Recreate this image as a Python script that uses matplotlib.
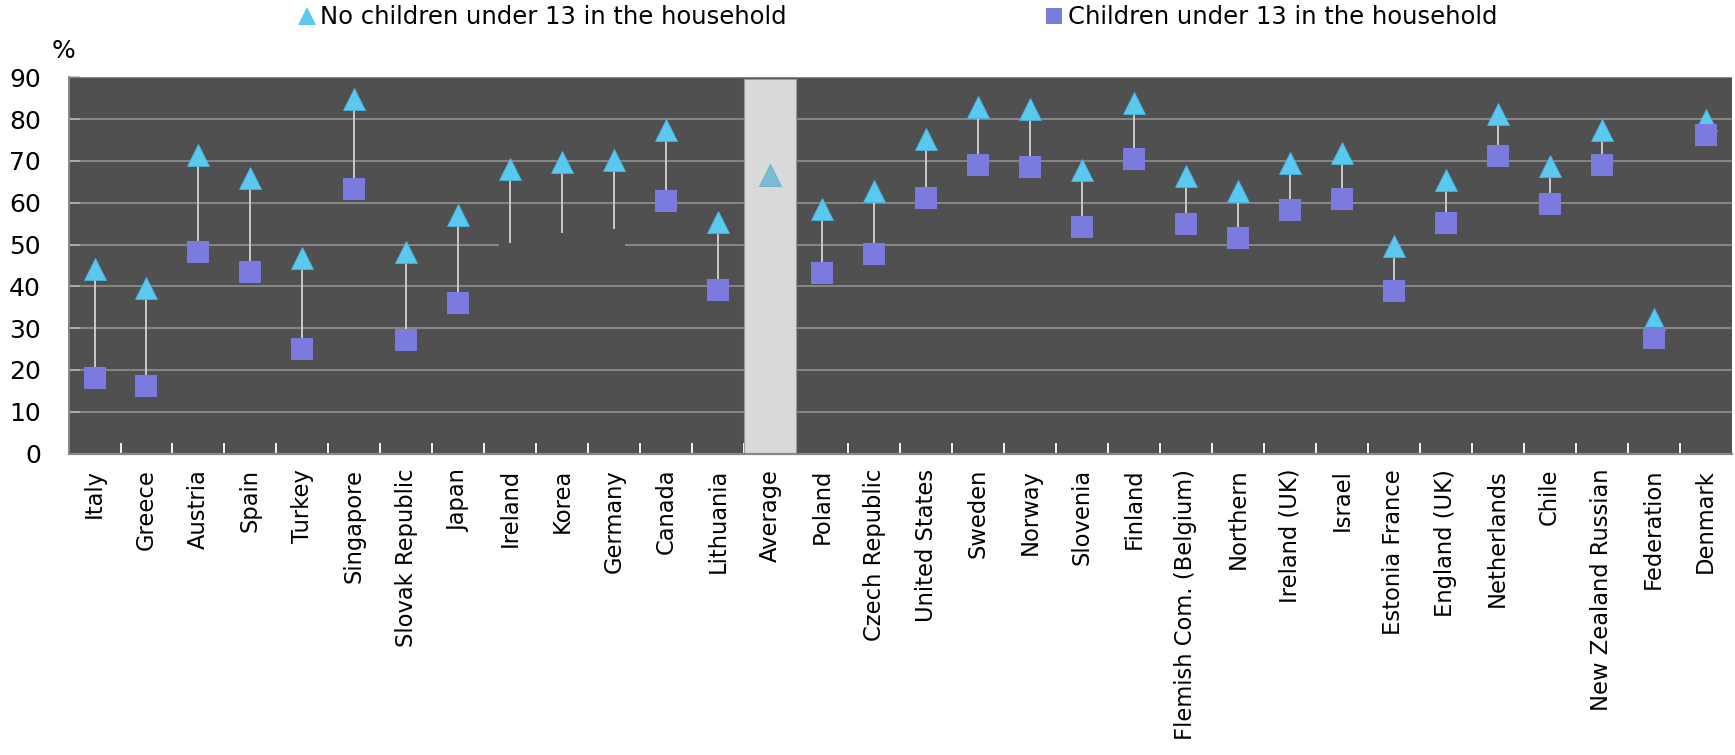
import numpy as np
import matplotlib
matplotlib.use("Agg")
import matplotlib.pyplot as plt
from matplotlib.lines import Line2D

# ---- data ----
categories = ["Italy", "Greece", "Austria", "Spain", "Turkey", "Singapore",
              "Slovak Republic", "Japan", "Ireland", "Korea", "Germany", "Canada",
              "Lithuania", "Average", "Poland", "Czech Republic", "United States",
              "Sweden", "Norway", "Slovenia", "Finland", "Flemish Com. (Belgium)",
              "Northern", "Ireland (UK)", "Israel", "Estonia France", "England (UK)",
              "Netherlands", "Chile", "New Zealand Russian", "Federation", "Denmark"]

no_children = [44.1, 39.6, 71.5, 65.9, 46.7, 84.9, 48.3, 57.0, 68.0, 69.7, 70.2, 77.5,
               55.3, 66.6, 58.4, 62.7, 75.2, 82.9, 82.4, 67.8, 83.8, 66.5, 62.9, 69.5,
               72.0, 49.7, 65.5, 81.3, 68.7, 77.4, 32.2, 79.9]

children = [18.0, 16.1, 48.2, 43.4, 25.0, 63.2, 27.2, 36.0, 50.3, 52.8, 53.8, 60.4,
            39.1, np.nan, 43.2, 47.7, 61.1, 69.0, 68.6, 54.2, 70.5, 54.9, 51.6, 58.3,
            60.9, 38.9, 55.2, 71.2, 59.7, 69.0, 27.6, 76.2]

hidden_children_markers = ["Ireland", "Korea", "Germany"]
average_label = "Average"
yticks = [0, 10, 20, 30, 40, 50, 60, 70, 80, 90]
legend_labels = ["No children under 13 in the household",
                 "Children under 13 in the household"]

# ---- style ----
BG = "#505050"
GRID = "#878787"
TRI = "#5bc8f0"
TRI_AVG = "#7bbcd5"
SQ = "#7b7bdf"
LINE = "#d4d4d4"
BAND = "#d9d9d9"
cond = ["DejaVu Sans"]

fig = plt.figure(figsize=(17.35, 7.55), dpi=100)
ax = fig.add_axes([0.0395, 0.3993, 0.9585, 0.4983])
ax.set_facecolor(BG)

n = len(categories)
x = np.arange(n)
nc = np.array(no_children, dtype=float)
ch = np.array(children, dtype=float)
avg_idx = categories.index(average_label)

ax.set_xlim(-0.5, n - 0.5)
ax.set_ylim(0, 90)

# gridlines (the 50 line is interrupted around the hidden markers)
hid = [categories.index(c) for c in hidden_children_markers]
gap = (min(hid) - 0.21, max(hid) + 0.21)
for yv in yticks[1:-1]:
    if yv == 50:
        ax.hlines(yv, -0.5, gap[0], color=GRID, lw=1.4, zorder=1)
        ax.hlines(yv, gap[1], n - 0.5, color=GRID, lw=1.4, zorder=1)
    else:
        ax.axhline(yv, color=GRID, lw=1.4, zorder=1)
ax.axhline(yticks[-1], color=GRID, lw=1.6, zorder=6)

# average band
ax.axvspan(avg_idx - 0.5, avg_idx + 0.5, ymax=0.995, facecolor=BAND,
           edgecolor="#9a9a9a", lw=0.8, zorder=2)

# connectors
valid = ~np.isnan(ch)
ax.vlines(x[valid], ch[valid], nc[valid], color=LINE, lw=1.3, zorder=3)

# triangles
mask_tri = x != avg_idx
ax.plot(x[mask_tri], nc[mask_tri], ls="", marker="^", ms=16.5, color=TRI,
        mec="#45b5e0", mew=0.6, zorder=4)
ax.plot([avg_idx], [nc[avg_idx]], ls="", marker="^", ms=16.5, color=TRI_AVG,
        mec="#6aaecb", mew=0.6, zorder=4)

# squares
show_sq = valid & np.array([c not in hidden_children_markers for c in categories])
ax.plot(x[show_sq], ch[show_sq], ls="", marker="s", ms=15.8, color=SQ, mew=0,
        zorder=5)

# axes styling
for s in ["top", "right"]:
    ax.spines[s].set_visible(False)
ax.spines["left"].set_color(GRID)
ax.spines["bottom"].set_color(GRID)
ax.spines["left"].set_linewidth(1.4)
ax.spines["bottom"].set_linewidth(1.6)

ax.set_yticks(yticks)
ax.set_yticklabels([str(v) for v in yticks], family=cond, fontsize=18)
ax.tick_params(axis="y", direction="in", length=8, color="#b5b5b5", width=1.2,
               pad=20, labelcolor="black")

ax.set_xticks(x)
ax.set_xticklabels(categories, rotation=90, fontsize=16.3, family="DejaVu Sans")
ax.tick_params(axis="x", which="major", length=0, pad=11)
ax.set_xticks(np.arange(-0.5, n, 1.0)[1:-1], minor=True)
ax.tick_params(axis="x", which="minor", direction="in", length=8, color="white",
               width=1.3)

fig.text(0.030, 0.933, "%", family=cond, fontsize=18, ha="left", va="center")

handles = [Line2D([], [], ls="", marker="^", ms=13, color=TRI, mew=0),
           Line2D([], [], ls="", marker="s", ms=12, color=SQ, mew=0)]
fig.legend(handles, legend_labels, ncol=2, loc="center",
           bbox_to_anchor=(0.5172, 0.977), frameon=False,
           prop={"family": cond, "size": 17.5}, columnspacing=10.6,
           handletextpad=0.15, handlelength=0.8, borderpad=0.1)

fig.savefig("out.png", dpi=100, facecolor="white")
